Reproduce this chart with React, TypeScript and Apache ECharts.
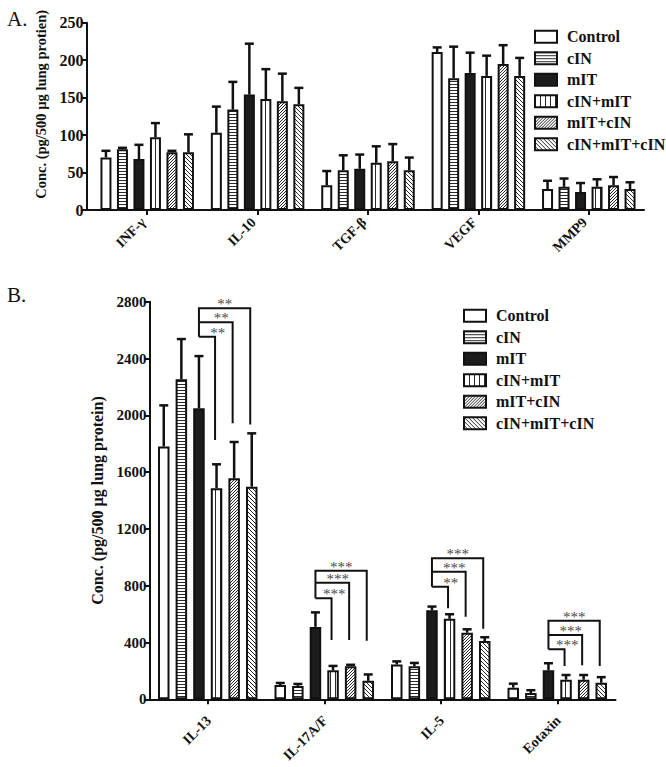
import { useEffect, useRef } from 'react';
import * as echarts from 'echarts';

// ---------- data ----------
const groups = ['Control', 'cIN', 'mIT', 'cIN+mIT', 'mIT+cIN', 'cIN+mIT+cIN'];

// Panel A
const catsA = ['INF-γ', 'IL-10', 'TGF-β', 'VEGF', 'MMP9'];
const yTicksA = [0, 50, 100, 150, 200, 250];
const aControl = [70, 103, 33, 211, 28];
const aCIN = [81, 134, 53, 176, 31];
const aMIT = [68, 154, 55, 183, 24];
const aCINmIT = [97, 148, 63, 179, 31];
const aMITcIN = [77, 145, 65, 195, 33];
const aCINmITcIN = [77, 141, 53, 179, 28];
const aControlSd = [9, 35, 19, 6, 11];
const aCINSd = [2, 37, 20, 42, 11];
const aMITSd = [19, 68, 19, 27, 12];
const aCINmITSd = [19, 40, 22, 27, 10];
const aMITcINSd = [2, 37, 23, 25, 11];
const aCINmITcINSd = [24, 22, 17, 24, 9];

// Panel B
const catsB = ['IL-13', 'IL-17A/F', 'IL-5', 'Eotaxin'];
const yTicksB = [0, 400, 800, 1200, 1600, 2000, 2400, 2800];
const bControl = [1780, 100, 245, 82];
const bCIN = [2253, 94, 232, 44];
const bMIT = [2049, 510, 627, 204];
const bCINmIT = [1486, 205, 567, 138];
const bMITcIN = [1556, 233, 469, 138];
const bCINmITcIN = [1497, 130, 410, 116];
const bControlSd = [290, 15, 22, 28];
const bCINSd = [284, 14, 24, 20];
const bMITSd = [368, 102, 26, 50];
const bCINmITSd = [169, 30, 32, 33];
const bMITcINSd = [256, 10, 24, 33];
const bCINmITcINSd = [376, 45, 27, 40];

// significance brackets (mIT vs cIN+mIT, mIT+cIN, cIN+mIT+cIN)
const sigLabels = [
  ['**', '**', '**'],
  ['***', '***', '***'],
  ['**', '***', '***'],
  ['***', '***', '***'],
];
const sigLevels = [
  [2553, 2655, 2753],
  [711, 821, 906],
  [793, 899, 993],
  [352, 453, 553],
];
const sigDrops = [
  [1826, 1944, 1935],
  [418, 418, 413],
  [641, 582, 497],
  [235, 240, 235],
];

// ---------- styling ----------
const FONT = '"Liberation Serif", "Times New Roman", serif';
const INK = '#111';
const BW_A = 11;
const GAP_A = 0.5;
const PITCH_A = BW_A * (1 + GAP_A);
const BW_B = 11.5;
const GAP_B = 0.53;
const PITCH_B = BW_B * (1 + GAP_B);
const CAT_FONT = `bold 14px ${FONT}`;
const CAT_SIZE = 14;

function makeTile(kind: string) {
  const c = document.createElement('canvas');
  let w = 4;
  let h = 4;
  if (kind === 'h') { w = 3; h = 3; }
  if (kind === 'v') { w = 5; h = 5; }
  if (kind === 'd1') { w = 3; h = 3; }
  if (kind === 'd2') { w = 4; h = 4; }
  c.width = w;
  c.height = h;
  const ctx = c.getContext('2d')!;
  ctx.fillStyle = '#ffffff';
  ctx.fillRect(0, 0, w, h);
  ctx.fillStyle = '#2a2a2a';
  for (let x = 0; x < w; x++) {
    for (let y = 0; y < h; y++) {
      let on = false;
      if (kind === 'h') on = y === 0;
      if (kind === 'v') on = x === 0;
      if (kind === 'd1') on = (x + y) % 3 === 2;
      if (kind === 'd2') on = (x - y + 4) % 4 === 0;
      if (on) ctx.fillRect(x, y, 1, 1);
    }
  }
  return { image: c.toDataURL(), imageWidth: w, imageHeight: h, repeat: 'repeat' };
}

function errRender(pitch: number) {
  return (params: any, api: any) => {
    const j = api.value(0);
    const m = api.value(1);
    const t = api.value(2);
    const g = api.value(3);
    const p0 = api.coord([j, m]);
    const p1 = api.coord([j, t]);
    const x = p0[0] + (g - 2.5) * pitch;
    return {
      type: 'group',
      children: [
        { type: 'line', shape: { x1: x, y1: p0[1], x2: x, y2: p1[1] }, style: { stroke: INK, lineWidth: 2.5 } },
        { type: 'line', shape: { x1: x - 4.5, y1: p1[1], x2: x + 4.5, y2: p1[1] }, style: { stroke: INK, lineWidth: 2.5 } },
      ],
    };
  };
}

function bracketRender(params: any, api: any) {
  const j = api.value(0);
  const cx = api.coord([j, 0])[0];
  const xs = (g: number) => cx + (g - 2.5) * PITCH_B;
  const y = (v: number) => api.coord([j, v])[1];
  const L = xs(2);
  const lev = [api.value(1), api.value(2), api.value(3)];
  const drop = [api.value(4), api.value(5), api.value(6)];
  const children: any[] = [];
  for (let k = 0; k < 3; k++) {
    const xr = xs(3 + k) - 1.5;
    const pts: number[][] = [[L, y(lev[k])], [xr, y(lev[k])], [xr, y(drop[k])]];
    if (k === 2) pts.unshift([L, y(lev[0])]);
    children.push({ type: 'polyline', shape: { points: pts }, style: { stroke: INK, lineWidth: 2, fill: null } });
    children.push({
      type: 'text',
      x: L + PITCH_B * (1.07 + 0.2 * k),
      y: y(lev[k]) - 4,
      style: {
        text: sigLabels[params.dataIndex][k],
        fill: '#4a4a4a',
        font: `15px ${FONT}`,
        align: 'center',
        verticalAlign: 'middle',
      },
    });
  }
  return { type: 'group', children };
}

export default function App() {
  const ref = useRef<HTMLDivElement>(null);
  useEffect(() => {
    if (!ref.current) return;
    const chart = echarts.init(ref.current, undefined, { renderer: 'svg' });
    const fills: any[] = [
      '#ffffff',
      makeTile('h'),
      '#1c1c1c',
      makeTile('v'),
      makeTile('d1'),
      makeTile('d2'),
    ];
    const aMeans = [aControl, aCIN, aMIT, aCINmIT, aMITcIN, aCINmITcIN];
    const aSds = [aControlSd, aCINSd, aMITSd, aCINmITSd, aMITcINSd, aCINmITcINSd];
    const bMeans = [bControl, bCIN, bMIT, bCINmIT, bMITcIN, bCINmITcIN];
    const bSds = [bControlSd, bCINSd, bMITSd, bCINmITSd, bMITcINSd, bCINmITcINSd];

    const series: any[] = [];
    groups.forEach((g, gi) => {
      series.push({
        type: 'bar', name: g, xAxisIndex: 0, yAxisIndex: 0, data: aMeans[gi],
        barWidth: BW_A, barGap: `${GAP_A * 100}%`,
        itemStyle: { color: fills[gi], borderColor: INK, borderWidth: 2 },
        emphasis: { disabled: true },
      });
    });
    groups.forEach((g, gi) => {
      series.push({
        type: 'bar', name: g, xAxisIndex: 1, yAxisIndex: 1, data: bMeans[gi],
        barWidth: BW_B, barGap: `${GAP_B * 100}%`,
        itemStyle: { color: fills[gi], borderColor: INK, borderWidth: 2 },
        emphasis: { disabled: true },
      });
    });
    const errA: number[][] = [];
    const errB: number[][] = [];
    groups.forEach((_, gi) => {
      catsA.forEach((__, j) => errA.push([j, aMeans[gi][j], aMeans[gi][j] + aSds[gi][j], gi]));
      catsB.forEach((__, j) => errB.push([j, bMeans[gi][j], bMeans[gi][j] + bSds[gi][j], gi]));
    });
    series.push({ type: 'custom', name: 'errA', xAxisIndex: 0, yAxisIndex: 0, z: 5, silent: true, data: errA, renderItem: errRender(PITCH_A) });
    series.push({ type: 'custom', name: 'errB', xAxisIndex: 1, yAxisIndex: 1, z: 5, silent: true, data: errB, renderItem: errRender(PITCH_B) });
    series.push({
      type: 'custom', name: 'sig', xAxisIndex: 1, yAxisIndex: 1, z: 5, silent: true,
      data: catsB.map((_, j) => [j, ...sigLevels[j], ...sigDrops[j]]),
      renderItem: bracketRender,
    });

    const axisLine = { show: true, onZero: false, lineStyle: { color: INK, width: 2 } };
    const tick = { show: true, length: 5, lineStyle: { color: INK, width: 2 } };
    const tickLabelA = { color: INK, fontFamily: FONT, fontWeight: 'bold', fontSize: 16, margin: 3, formatter: (v: number) => String(v) };
    const tickLabelB = { color: INK, fontFamily: FONT, fontWeight: 'bold', fontSize: 15, margin: 3, formatter: (v: number) => String(v) };
    const legendBase = {
      orient: 'vertical', icon: 'rect', itemWidth: 22, itemHeight: 12, itemGap: 5.5, padding: 0,
      selectedMode: false, data: groups,
      itemStyle: { borderWidth: 2, borderColor: INK },
      textStyle: { color: INK, fontFamily: FONT, fontWeight: 'bold', fontSize: 16, lineHeight: 16, padding: [0, 0, 0, 5] },
    };

    chart.setOption({
      animation: false,
      backgroundColor: '#ffffff',
      grid: [
        { left: 92, top: 22.7, width: 552, height: 187.3, containLabel: false, outerBoundsMode: 'none' },
        { left: 149.5, top: 301.7, width: 466, height: 397.6, containLabel: false, outerBoundsMode: 'none' },
      ],
      xAxis: [
        {
          type: 'category', gridIndex: 0, data: catsA, axisLine, boundaryGap: true,
          axisTick: { ...tick, alignWithLabel: true, interval: 0 },
          axisLabel: { show: false }, splitLine: { show: false },
        },
        {
          type: 'category', gridIndex: 1, data: catsB, axisLine, boundaryGap: true,
          axisTick: { ...tick, alignWithLabel: true, interval: 0 },
          axisLabel: { show: false }, splitLine: { show: false },
        },
      ],
      yAxis: [
        {
          type: 'value', gridIndex: 0, min: yTicksA[0], max: yTicksA[yTicksA.length - 1],
          interval: yTicksA[1] - yTicksA[0], offset: 5.5,
          axisLine, axisTick: tick, axisLabel: tickLabelA, splitLine: { show: false },
          name: 'Conc. (pg/500 µg lung protien)', nameLocation: 'middle', nameRotate: 90, nameGap: 34,
          nameTextStyle: { color: INK, fontFamily: FONT, fontWeight: 'bold', fontSize: 14.5, padding: [0, 0, 0, 24] },
        },
        {
          type: 'value', gridIndex: 1, min: yTicksB[0], max: yTicksB[yTicksB.length - 1],
          interval: yTicksB[1] - yTicksB[0],
          axisLine, axisTick: tick, axisLabel: tickLabelB, splitLine: { show: false },
          name: 'Conc. (pg/500 µg lung protein)', nameLocation: 'middle', nameRotate: 90, nameGap: 44,
          nameTextStyle: { color: INK, fontFamily: FONT, fontWeight: 'bold', fontSize: 16 },
        },
      ],
      legend: [
        { ...legendBase, left: 534, top: 28.7 },
        { ...legendBase, left: 463, top: 307.7 },
      ],
      series,
    });

    // rotated (45°) category labels, anchored at the axis ticks computed by the library;
    // drawn left/top aligned, shifted so that the text ends at the anchor.
    const measure = document.createElement('canvas').getContext('2d')!;
    measure.font = CAT_FONT;
    const c45 = Math.SQRT1_2;
    const labelEls: any[] = [];
    const addLabels = (cats: string[], axisIdx: number, dx: number, dy: number) => {
      const y0 = chart.convertToPixel({ yAxisIndex: axisIdx } as any, 0) as number;
      cats.forEach((c) => {
        const x = chart.convertToPixel({ xAxisIndex: axisIdx } as any, c) as number;
        const w = measure.measureText(c).width;
        const ax = x + dx;
        const ay = y0 + dy;
        labelEls.push({
          type: 'text',
          x: ax - c45 * w - c45 * CAT_SIZE / 2,
          y: ay + c45 * w - c45 * CAT_SIZE / 2,
          rotation: Math.PI / 4,
          style: { text: c, font: CAT_FONT, fill: INK },
        });
      });
    };
    addLabels(catsA, 0, -4, 10);
    addLabels(catsB, 1, 1, 19);

    chart.setOption({
      graphic: [
        { type: 'line', shape: { x1: 86, y1: 210, x2: 93, y2: 210 }, style: { stroke: INK, lineWidth: 2 }, silent: true },
        { type: 'text', left: 7, top: 8, style: { text: 'A.', font: `21px ${FONT}`, fill: INK } },
        { type: 'text', left: 7, top: 284, style: { text: 'B.', font: `21px ${FONT}`, fill: INK } },
        ...labelEls,
      ],
    });
    return () => chart.dispose();
  }, []);
  return (
    <div
      ref={ref}
      style={{ position: 'fixed', left: 0, top: 0, width: 666, height: 767, background: '#fff' }}
    />
  );
}
